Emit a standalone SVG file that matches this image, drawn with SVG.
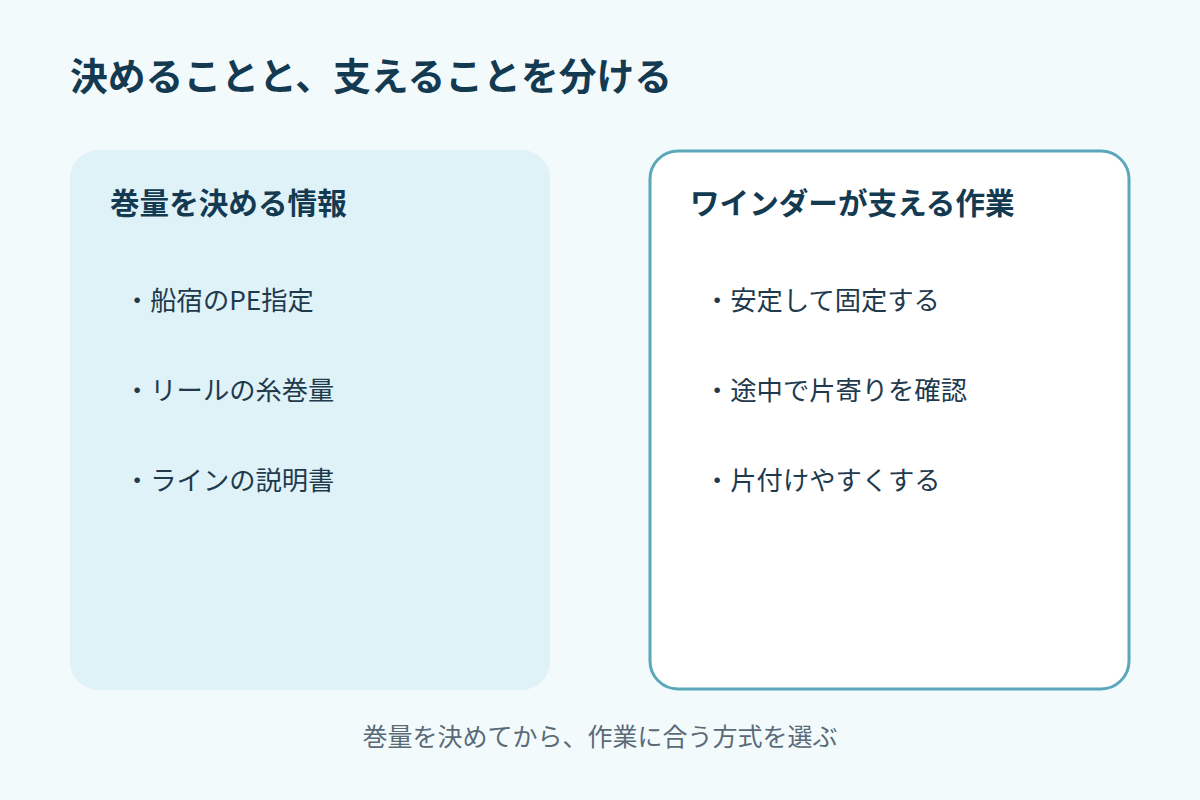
<svg xmlns="http://www.w3.org/2000/svg" width="1200" height="800" viewBox="0 0 1200 800">
<style>
text{font-family:"Noto Sans CJK JP","Noto Sans",sans-serif}
.h{font-size:29.6px;font-weight:bold;fill:#143a52}
.i{font-size:26.3px;fill:#1f3a4d}
</style>
<rect width="1200" height="800" fill="#f3fafc"/>
<text x="70" y="90" fill="#143a52" style="font-size:37.8px;font-weight:bold">決めることと、支えることを分ける</text>
<g id="left">
<rect x="70" y="150" width="480" height="540" rx="28" fill="#dff2f8"/>
<text class="h" x="110" y="214">巻量を決める情報</text>
<text class="i" x="124" y="310">・船宿のPE指定</text>
<text class="i" x="124" y="400">・リールの糸巻量</text>
<text class="i" x="124" y="490">・ラインの説明書</text>
</g>
<g id="right">
<rect x="650" y="151" width="479" height="538" rx="28" fill="#fff" stroke="#5ba8bb" stroke-width="3"/>
<text class="h" x="690" y="214">ワインダーが支える作業</text>
<text class="i" x="704" y="310">・安定して固定する</text>
<text class="i" x="704" y="400">・途中で片寄りを確認</text>
<text class="i" x="704" y="490">・片付けやすくする</text>
</g>
<g id="connectors"></g>
<text x="600" y="746" text-anchor="middle" fill="#5a6b78" style="font-size:25px">巻量を決めてから、作業に合う方式を選ぶ</text>
</svg>
